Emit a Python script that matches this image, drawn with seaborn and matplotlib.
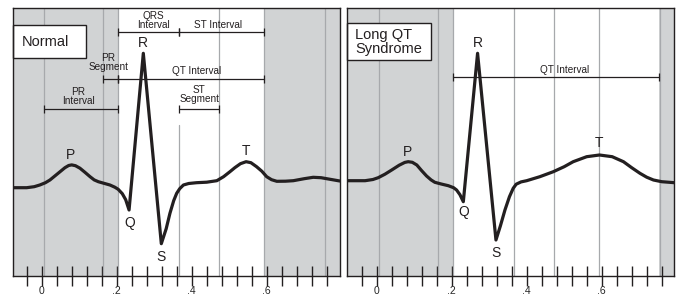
import pandas as pd
import matplotlib.pyplot as plt
import seaborn as sns
from matplotlib.patches import Rectangle

# ECG traces (time in s, amplitude in mV)
normal_t = [-0.076, -0.04, -0.02, -0.005, 0.01, 0.022, 0.036, 0.049, 0.062, 0.072, 0.08,
            0.09, 0.102, 0.115, 0.129, 0.14, 0.151, 0.165, 0.182, 0.195, 0.204, 0.215,
            0.224, 0.233, 0.271, 0.319, 0.332, 0.342, 0.352, 0.36, 0.368, 0.378, 0.392,
            0.413, 0.44, 0.467, 0.485, 0.502, 0.515, 0.53, 0.545, 0.558, 0.573, 0.587,
            0.6, 0.613, 0.627, 0.65, 0.671, 0.7, 0.724, 0.745, 0.76, 0.795]
normal_mv = [-0.01, -0.01, 0.0, 0.017, 0.04, 0.067, 0.11, 0.15, 0.19, 0.212, 0.218,
             0.21, 0.185, 0.145, 0.1, 0.068, 0.05, 0.035, 0.017, -0.005, -0.026, -0.07,
             -0.13, -0.233, 1.334, -0.57, -0.42, -0.266, -0.14, -0.066, -0.02, 0.017, 0.032,
             0.04, 0.045, 0.06, 0.1, 0.15, 0.19, 0.23, 0.25, 0.24, 0.2, 0.155,
             0.1, 0.07, 0.054, 0.055, 0.06, 0.08, 0.094, 0.09, 0.08, 0.057]

long_t = [-0.08, -0.031, -0.01, 0.004, 0.022, 0.04, 0.06, 0.075, 0.084, 0.095, 0.107,
          0.12, 0.133, 0.145, 0.155, 0.172, 0.191, 0.205, 0.213, 0.222, 0.231, 0.269,
          0.318, 0.33, 0.342, 0.354, 0.364, 0.372, 0.385, 0.4, 0.435, 0.471, 0.5,
          0.524, 0.56, 0.594, 0.628, 0.658, 0.68, 0.702, 0.72, 0.738, 0.76, 0.794]
long_mv = [0.06, 0.06, 0.072, 0.09, 0.125, 0.167, 0.215, 0.243, 0.25, 0.244, 0.217,
           0.16, 0.107, 0.068, 0.044, 0.027, 0.01, -0.01, -0.033, -0.08, -0.15, 1.334,
           -0.533, -0.39, -0.233, -0.1, -0.016, 0.025, 0.048, 0.06, 0.1, 0.15, 0.2,
           0.25, 0.3, 0.317, 0.3, 0.25, 0.19, 0.134, 0.095, 0.067, 0.05, 0.04]

# wave labels
wave_names = ['P', 'Q', 'R', 'S', 'T']
normal_label_t = [0.077, 0.235, 0.271, 0.318, 0.545]
normal_label_mv = [0.317, -0.36, 1.434, -0.70, 0.357]
long_label_t = [0.083, 0.233, 0.269, 0.317, 0.594]
long_label_mv = [0.344, -0.25, 1.434, -0.66, 0.434]

# interval brackets: name, start, end, line level, text level
normal_brackets = [
    ('QRS\nInterval', 0.204, 0.367, 1.544, 1.565),
    ('ST Interval', 0.367, 0.594, 1.544, 1.57),
    ('PR\nSegment', 0.163, 0.204, 1.077, 1.15),
    ('QT Interval', 0.204, 0.594, 1.077, 1.105),
    ('PR\nInterval', 0.007, 0.204, 0.777, 0.805),
    ('ST\nSegment', 0.367, 0.474, 0.777, 0.83),
]
normal_text_x = [0.298, 0.47, 0.178, 0.413, 0.098, 0.42]
long_brackets = [('QT Interval', 0.203, 0.754, 1.094, 1.12)]
long_text_x = [0.5]

grid_t = [0.007, 0.163, 0.204, 0.367, 0.474, 0.594, 0.755]
tick_t = [round(-0.04 + 0.04 * i, 2) for i in range(21)]
tick_labels = {0.0: '0', 0.2: '.2', 0.4: '.4', 0.6: '.6'}

sns.set_style('white')
plt.rcParams['font.family'] = ['Liberation Sans', 'DejaVu Sans']

fill_col = '#d1d3d4'
line_col = '#a7a9ac'
ink = '#231f20'

fig = plt.figure(figsize=(6.81, 2.97), dpi=100)
ax1 = fig.add_axes([0.01953, 0.07172, 0.47974, 0.90034])
ax2 = fig.add_axes([0.5091, 0.07172, 0.48106, 0.90034])


def panel(ax, t, mv, xlim, shade, lab_t, lab_mv, brackets, text_x, box, title):
    ax.set_xlim(*xlim)
    ax.set_ylim(-0.89, 1.784)
    ax.axvspan(xlim[0], shade[0], color=fill_col, lw=0, zorder=0)
    ax.axvspan(shade[1], xlim[1], color=fill_col, lw=0, zorder=0)
    for g in grid_t:
        top = 0.617 if (g == 0.367 and title == 'Normal') else 1.784
        ax.plot([g, g], [-0.89, top], color=line_col, lw=0.9, zorder=1)
    df = pd.DataFrame({'t': t, 'mv': mv})
    sns.lineplot(data=df, x='t', y='mv', ax=ax, color=ink, lw=2.3, sort=False,
                 estimator=None, zorder=3)
    for line in ax.lines[-1:]:
        line.set_solid_joinstyle('round')
    for name, x, y in zip(wave_names, lab_t, lab_mv):
        ax.text(x, y, name, ha='center', va='center', fontsize=10, color=ink, zorder=4)
    for (name, x0, x1, yl, yt), xt in zip(brackets, text_x):
        ax.plot([x0, x1], [yl, yl], color=ink, lw=0.9, zorder=4)
        ax.plot([x0, x1], [yl, yl], ls='none', marker='|', ms=6, mew=0.9, color=ink, zorder=4)
        ax.text(xt, yt, name, ha='center', va='bottom', fontsize=7.2, color=ink,
                linespacing=0.85, zorder=4)
    bx0, bx1, by0, by1 = box
    ax.add_patch(Rectangle((bx0, by0), bx1 - bx0, by1 - by0, facecolor='white',
                           edgecolor=ink, lw=1.0, zorder=5, clip_on=False))
    ax.text(bx0 + 0.022, (by0 + by1) / 2, title, ha='left', va='center', fontsize=10.5,
            color=ink, linespacing=1.0, multialignment='left', zorder=6)
    ax.set_xticks(tick_t)
    ax.set_xticklabels([tick_labels.get(v, '') for v in tick_t])
    ax.tick_params(axis='x', direction='inout', length=15, width=1.0, color=ink,
                   labelsize=7.5, pad=0, bottom=True)
    ax.set_yticks([])
    ax.set_xlabel('')
    ax.set_ylabel('')
    for s in ax.spines.values():
        s.set_color(ink)
        s.set_linewidth(1.0)
        s.set_zorder(7)


panel(ax1, normal_t, normal_mv, (-0.0757, 0.7955), (0.204, 0.594),
      normal_label_t, normal_label_mv, normal_brackets, normal_text_x,
      (-0.0757, 0.1178, 1.284, 1.617), 'Normal')
panel(ax2, long_t, long_mv, (-0.08, 0.7936), (0.203, 0.754),
      long_label_t, long_label_mv, long_brackets, long_text_x,
      (-0.08, 0.144, 1.267, 1.634), 'Long QT\nSyndrome')

fig.savefig('out.png', dpi=100)
